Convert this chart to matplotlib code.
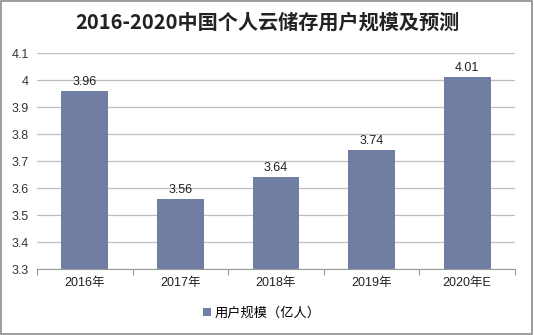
import matplotlib
matplotlib.use("Agg")
import matplotlib.pyplot as plt
from matplotlib.patches import Rectangle
import numpy as np

plt.rcParams['font.family'] = ['Liberation Sans', 'Noto Sans CJK SC', 'DejaVu Sans']

years = ['2016年', '2017年', '2018年', '2019年', '2020年E']
users = [3.96, 3.56, 3.64, 3.74, 4.01]
yticks = [3.3, 3.4, 3.5, 3.6, 3.7, 3.8, 3.9, 4.0, 4.1]
ytick_labels = ['3.3', '3.4', '3.5', '3.6', '3.7', '3.8', '3.9', '4', '4.1']
title = '2016-2020中国个人云储存用户规模及预测'
series_name = '用户规模（亿人）'

bar_color = '#717ea4'
grid_color = '#bfbfbf'

fig = plt.figure(figsize=(5.34, 3.35), dpi=100)
ax = fig.add_axes([0.0693, 0.197, 0.895, 0.6445])

x = np.arange(len(years))
bars = ax.bar(x, users, width=0.49, color=bar_color, zorder=3, label=series_name)

for xi, v in zip(x, users):
    ax.text(xi, v + 0.012, f'{v:.2f}', ha='center', va='bottom', fontsize=9, color='#222222')

ax.set_xlim(-0.5, len(years) - 0.5)
ax.set_ylim(3.3, 4.1)
ax.set_yticks(yticks)
ax.set_yticklabels(ytick_labels, fontsize=9, color='#333333')
ax.tick_params(axis='y', length=0, pad=6)
ax.yaxis.grid(True, color=grid_color, linewidth=0.9, zorder=0)

# category ticks sit on the boundaries between bars
ax.set_xticks(np.arange(len(years) + 1) - 0.5)
ax.set_xticklabels([])
ax.set_xticks(x, minor=True)
ax.set_xticklabels(years, minor=True, fontsize=9, color='#222222')
ax.tick_params(axis='x', which='major', length=4, color='#999999', direction='out')
ax.tick_params(axis='x', which='minor', length=0, pad=6)

for side in ['left', 'right', 'top']:
    ax.spines[side].set_visible(False)
ax.spines['bottom'].set_color('#999999')
ax.spines['bottom'].set_zorder(4)

fig.text(0.5, 0.934, title, ha='center', va='center', fontsize=14.5,
         fontweight='bold', family=['Noto Sans CJK SC'], color='#222222')

leg = fig.legend(handles=[bars], labels=[series_name], loc='center',
                 bbox_to_anchor=(0.49, 0.065), frameon=False,
                 handlelength=0.6, handleheight=0.6, handletextpad=0.3,
                 prop={'family': ['Noto Sans CJK SC'], 'size': 9.5})

fig.add_artist(Rectangle((0.002, 0.003), 0.995, 0.994, transform=fig.transFigure,
                         fill=False, edgecolor='#8c8c8c', linewidth=1.2))

fig.savefig('out.png', dpi=100)
